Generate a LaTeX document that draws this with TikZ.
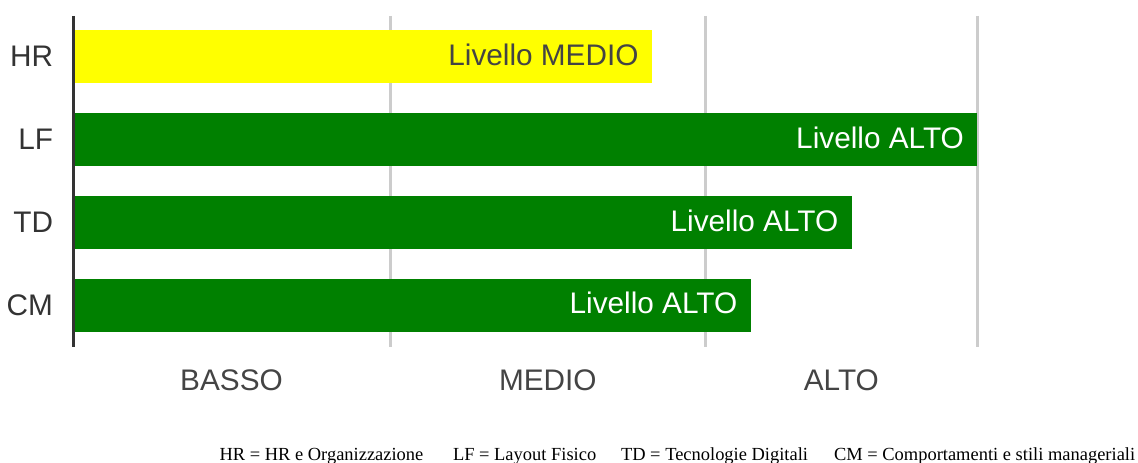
\documentclass[tikz,border=0pt]{standalone}
\usepackage{fontspec}
\setmainfont{Liberation Sans}
\newfontfamily\legendfont{Liberation Serif}
\definecolor{cffff00}{RGB}{255,255,0}
\definecolor{c008000}{RGB}{0,128,0}
\definecolor{ccccccc}{RGB}{204,204,204}
\definecolor{c333333}{RGB}{51,51,51}
\definecolor{c444444}{RGB}{68,68,68}
\def \globalscale {1.000000}

\begin{document}
\begin{tikzpicture}[y=1cm, x=1cm, yscale=\globalscale,xscale=\globalscale, every node/.append style={scale=\globalscale}, inner sep=0pt, outer sep=0pt,
  gridline/.style={draw=ccccccc,line width=0.0661cm},
  bigtext/.style={font=\fontsize{22.4}{27}\selectfont},
  catlabel/.style={bigtext,text=c333333,anchor=east},
  barlabel/.style={bigtext,anchor=east},
  levellabel/.style={bigtext,text=c444444,anchor=center},
  legendtext/.style={font=\legendfont\fontsize{13.9}{16}\selectfont,text=black,anchor=base west}]
  \useasboundingbox (0, 0) rectangle (30.1094, 12.25);



  \path[gridline] (10.3266, 11.8268) -- (10.3266, 3.0771);



  \path[gridline] (18.6608, 11.8268) -- (18.6608, 3.0771);



  \path[gridline] (25.8574, 11.8268) -- (25.8574, 3.0771);



  \path[fill=cffff00] (1.9394, 10.0461) rectangle (17.2506, 11.4563);



  \path[fill=c008000] (1.9394, 7.858) rectangle (25.8574, 9.2524);



  \path[fill=c008000] (1.9394, 5.67) rectangle (22.5343, 7.0643);



  \path[fill=c008000] (1.9394, 3.4739) rectangle (19.862, 4.8762);



  \path[draw=c333333,line width=0.0794cm] (1.9394, 11.8268) -- (1.9394, 3.0771);



  \node[barlabel,text=c444444] (textLivelloHR) at (16.8936, 10.8012){Livello MEDIO};



  \node[barlabel,text=white] (textLivelloLF) at (25.5004, 8.6052){Livello ALTO};



  \node[barlabel,text=white] (textLivelloTD) at (22.1773, 6.4172){Livello ALTO};



  \node[barlabel,text=white] (textLivelloCM) at (19.505, 4.2251){Livello ALTO};



  \node[catlabel] (textHR) at (1.4023, 10.7512){HR};



  \node[catlabel] (textLF) at (1.4023, 8.5552){LF};



  \node[catlabel] (textTD) at (1.4023, 6.3672){TD};



  \node[catlabel] (textCM) at (1.4023, 4.1751){CM};



  \node[levellabel] (textBasso) at (6.125, 2.1828){BASSO};



  \node[levellabel] (textMedio) at (14.4937, 2.1828){MEDIO};



  \node[levellabel] (textAlto) at (22.2591, 2.1828){ALTO};



  \node[legendtext] (legendHR) at (5.8075, 0.0529){HR = HR e Organizzazione};



  \node[legendtext] (legendLF) at (11.9855, 0.0529){LF = Layout Fisico};



  \node[legendtext] (legendTD) at (16.4304, 0.0529){TD = Tecnologie Digitali};



  \node[legendtext] (legendCM) at (22.066, 0.0529){CM = Comportamenti e stili manageriali};




\end{tikzpicture}
\end{document}
